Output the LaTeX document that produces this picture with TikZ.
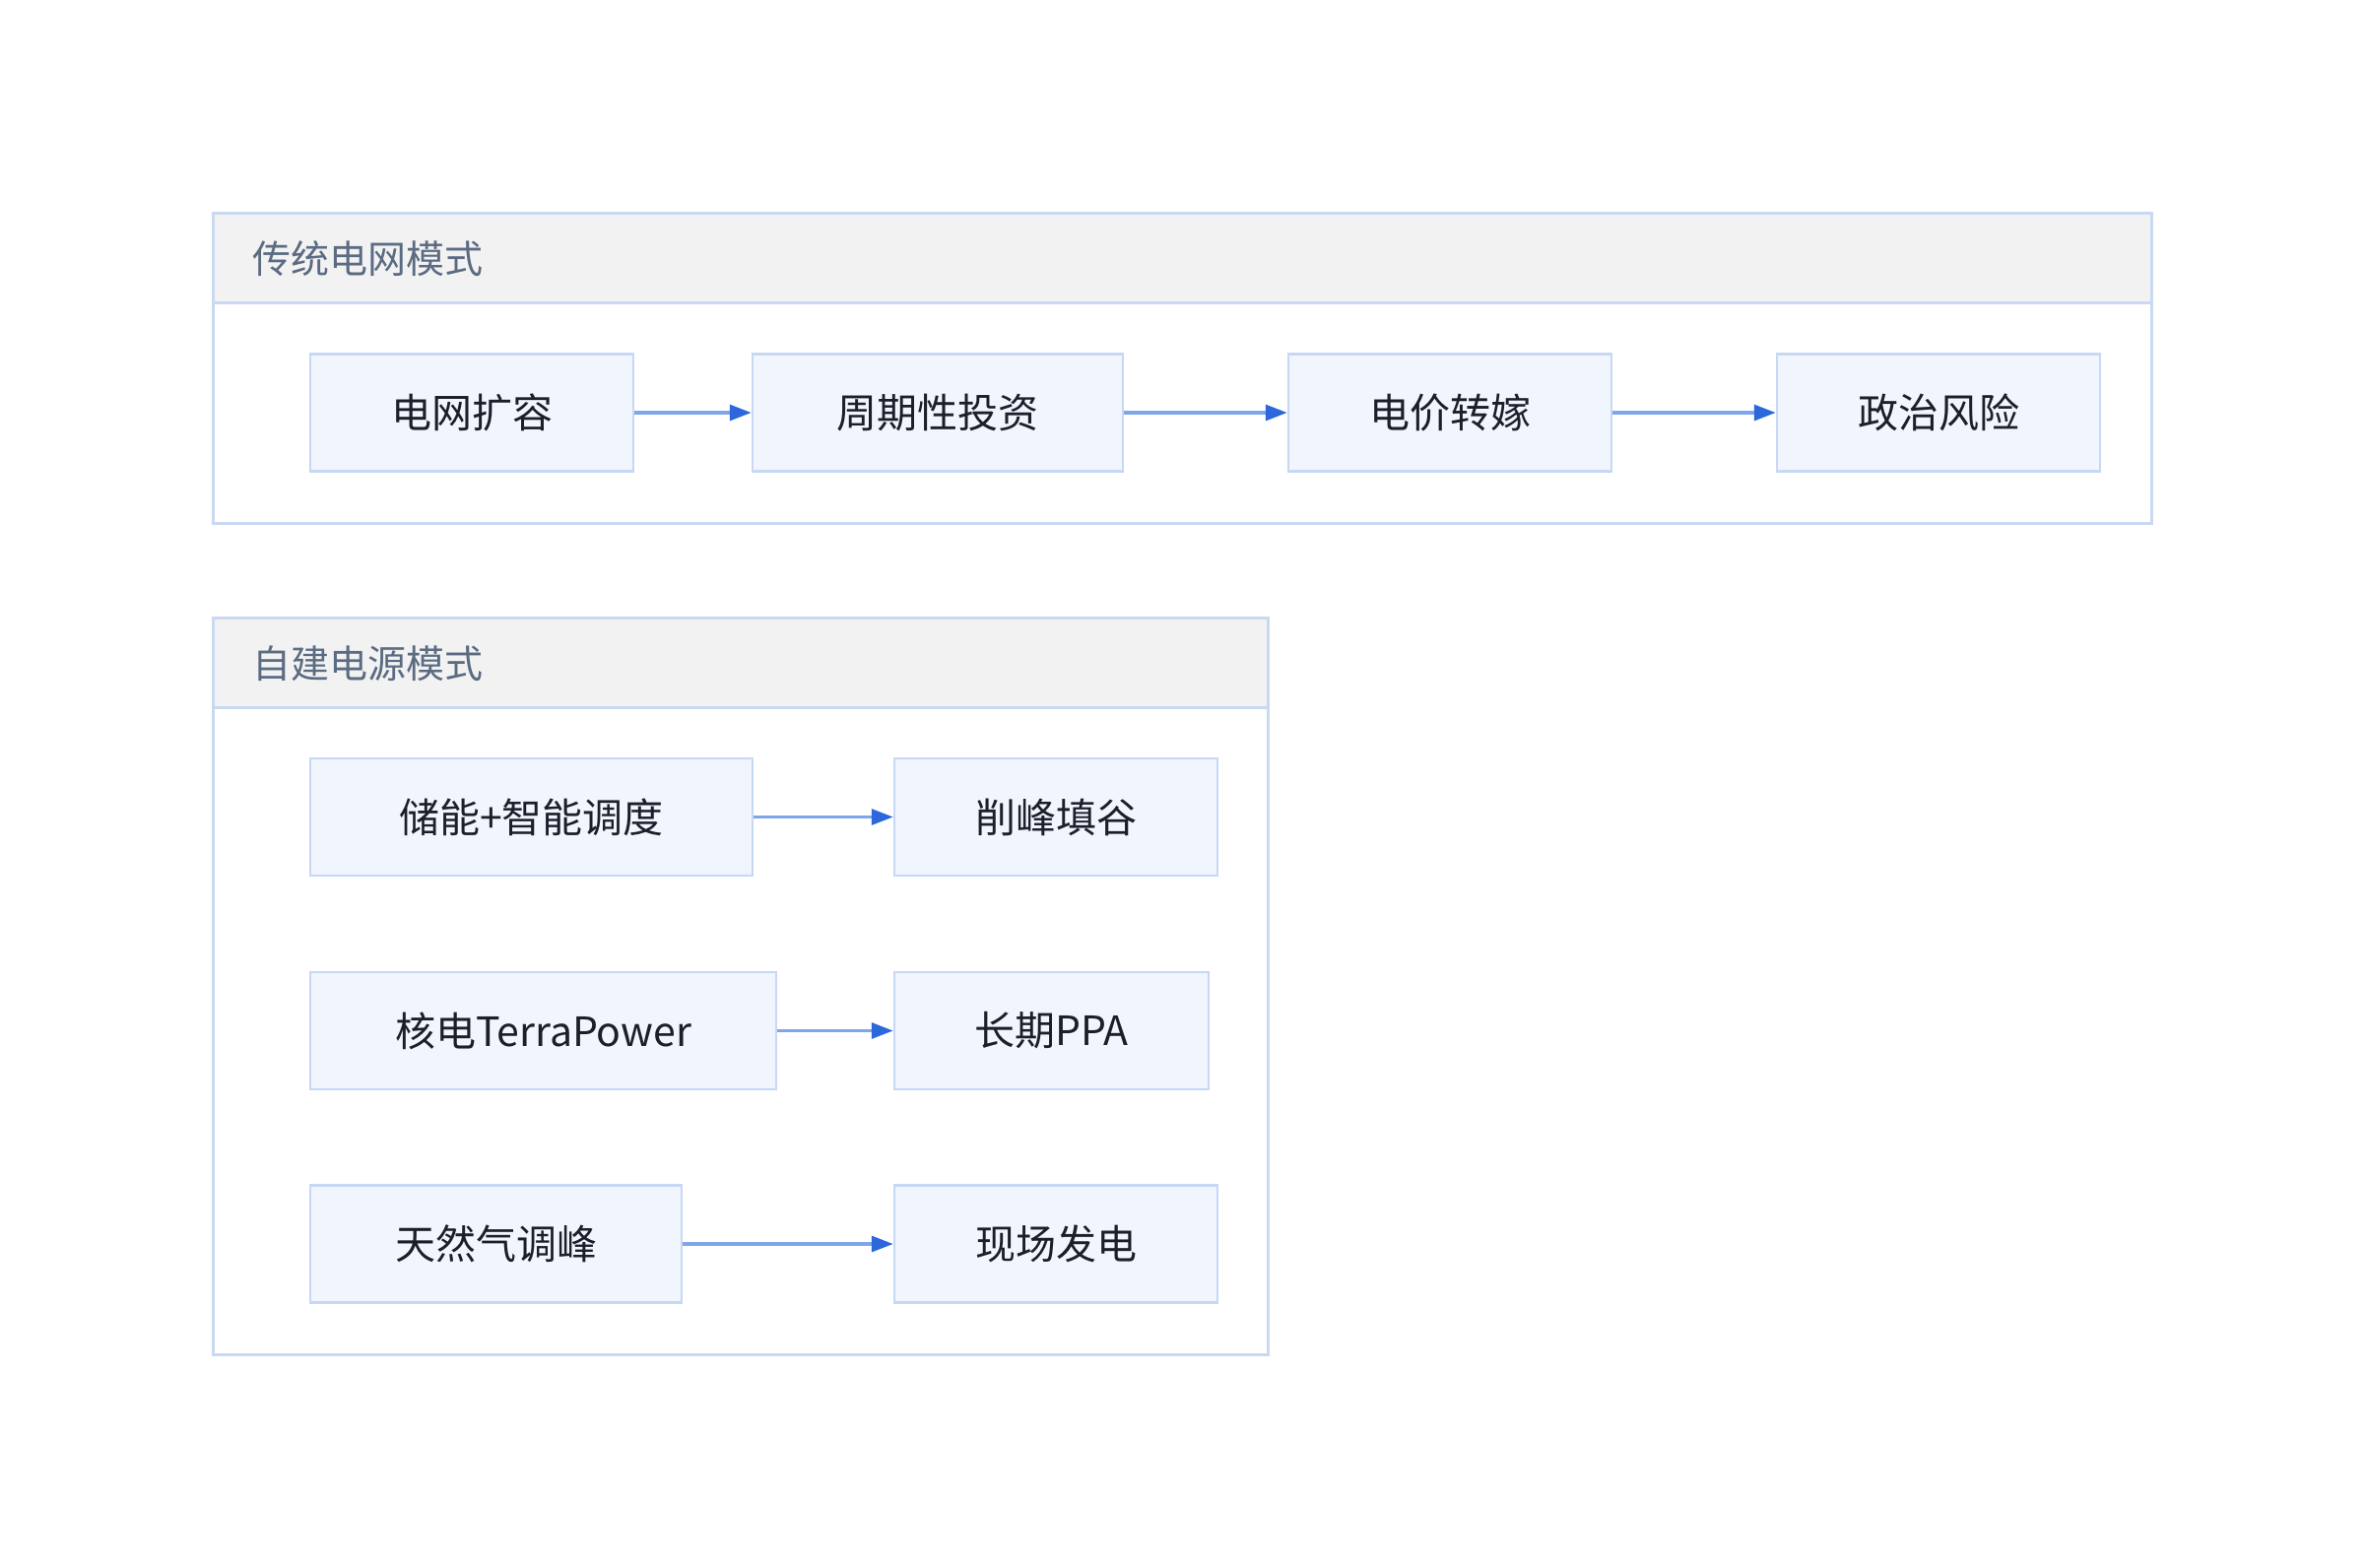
\documentclass[tikz,border=0pt]{standalone}
\usepackage{fontspec}
\setmainfont{Noto Sans CJK SC}
\usetikzlibrary{arrows.meta}
\definecolor{grpborder}{HTML}{C9D9F2}
\definecolor{hdrfill}{HTML}{F2F2F2}
\definecolor{nodefill}{HTML}{F0F5FE}
\definecolor{nodeborder}{HTML}{C6D8F4}
\definecolor{linecol}{HTML}{7FA6EA}
\definecolor{tipcol}{HTML}{2C68DC}
\definecolor{titlecol}{HTML}{5B6B82}
\definecolor{textcol}{HTML}{1C1F2A}
\tikzset{
  grpbox/.style={draw=grpborder, line width=3bp, fill=white},
  hdrbox/.style={draw=grpborder, line width=3bp, fill=hdrfill},
  grptitle/.style={anchor=west, text=titlecol, font=\fontsize{39bp}{44bp}\selectfont, inner sep=0pt},
  stepbox/.style={draw=nodeborder, line width=2.5bp, fill=nodefill, text=textcol,
    font=\fontsize{41bp}{48bp}\selectfont, minimum height=119bp, inner sep=0pt},
  flow/.style={draw=linecol, line width=3.2bp, -{Triangle[length=22bp,width=16bp,color=tipcol,fill=tipcol]}}
}
\begin{document}
\begin{tikzpicture}[x=1bp,y=-1bp]
\useasboundingbox (0,0) rectangle (2400,1592);
% group 1
\draw[grpbox] (216,216) rectangle (2184,531);
\draw[hdrbox] (216,216) rectangle (2184,307);
\node[grptitle] (t1) at (256,263) {传统电网模式};
\node[stepbox, minimum width=328bp] (a1) at (479,419) {电网扩容};
\node[stepbox, minimum width=376bp] (a2) at (952,419) {周期性投资};
\node[stepbox, minimum width=328bp] (a3) at (1472,419) {电价转嫁};
\node[stepbox, minimum width=328bp] (a4) at (1968,419) {政治风险};
\draw[flow] (a1.east) -- (a2.west);
\draw[flow] (a2.east) -- (a3.west);
\draw[flow] (a3.east) -- (a4.west);
% group 2
\draw[grpbox] (216,627) rectangle (1287,1375);
\draw[hdrbox] (216,627) rectangle (1287,718);
\node[grptitle] (t2) at (256,674) {自建电源模式};
\node[stepbox, minimum width=449bp] (b1) at (539.5,829.5) {储能+智能调度};
\node[stepbox, minimum width=328bp] (b2) at (1072,829.5) {削峰填谷};
\node[stepbox, minimum width=473bp] (c1) at (551.5,1046.5) {核电TerraPower};
\node[stepbox, minimum width=319bp] (c2) at (1067.5,1046.5) {长期PPA};
\node[stepbox, minimum width=377bp] (d1) at (503.5,1263) {天然气调峰};
\node[stepbox, minimum width=328bp] (d2) at (1072,1263) {现场发电};
\draw[flow] (b1.east) -- (b2.west);
\draw[flow] (c1.east) -- (c2.west);
\draw[flow] (d1.east) -- (d2.west);
\end{tikzpicture}
\end{document}
